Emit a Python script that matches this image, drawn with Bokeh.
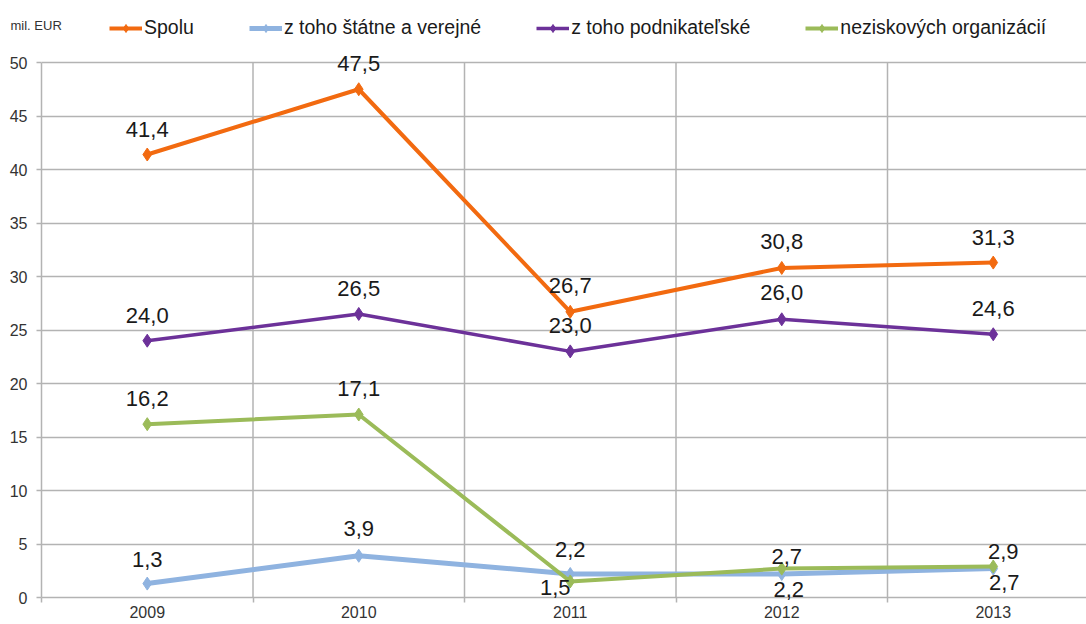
from bokeh.plotting import figure
from bokeh.models import (ColumnDataSource, FixedTicker, Legend, LegendItem, Label, Range1d)
from bokeh.layouts import column
from bokeh.core.properties import value
from bokeh.embed import file_html
from bokeh.resources import INLINE

# ---- data ----
years = ["2009", "2010", "2011", "2012", "2013"]
spolu = [41.4, 47.5, 26.7, 30.8, 31.3]
statne = [1.3, 3.9, 2.2, 2.2, 2.7]
podnik = [24.0, 26.5, 23.0, 26.0, 24.6]
nezisk = [16.2, 17.1, 1.5, 2.7, 2.9]
series_names = ["Spolu", "z toho štátne a verejné", "z toho podnikateľské", "neziskových organizácií"]
y_ticks = [0, 5, 10, 15, 20, 25, 30, 35, 40, 45, 50]
unit_label = "mil. EUR"

# ---- styling ----
colors = ["#f26a10", "#8fb3e0", "#6c3199", "#9bbb59"]
widths = [4, 5, 3.5, 4]
FONT = "Liberation Sans"
grid_col = "#b3b3b3"
# label offsets (dx, dy) in px per series per point
offsets = [
    [(0, -25), (0, -26), (0, -26), (0, -26), (0, -25)],
    [(0, -24), (0, -27), (0, -24), (7, 16), (11, 14)],
    [(0, -25), (0, -25), (0, -26), (0, -27), (0, -26)],
    [(0, -26), (0, -26), (-15, 6), (5, -12), (10, -15)],
]

W = 1086
TOP_H = 44
MAIN_H = 624 - TOP_H
LEFT = 41
BOTTOM = 23
PX_PER_UNIT = 535 / 50      # pixel height of one data unit
ZERO_PX = 597 - TOP_H       # y of value 0 inside the main figure
frame_h = MAIN_H - BOTTOM
y_end = ZERO_PX / PX_PER_UNIT
y_start = -(frame_h - ZERO_PX) / PX_PER_UNIT
x_end = -0.5 + (W - LEFT) / 211.5


def no_align(fig):
    if "frame_align" in fig.properties():
        fig.frame_align = False


# ---- header strip: unit label + legend ----
top = figure(width=W, height=TOP_H, output_backend="svg", toolbar_location=None,
             x_range=Range1d(0, W), y_range=Range1d(0, TOP_H),
             x_axis_location=None, y_axis_location=None,
             min_border=0, min_border_left=0, min_border_right=0,
             min_border_top=0, min_border_bottom=0)
no_align(top)
top.outline_line_color = None
top.xgrid.visible = False
top.ygrid.visible = False
top.add_layout(Label(x=10, y=TOP_H - 25, x_units="screen", y_units="screen", text=unit_label,
                     text_font=FONT, text_font_size="13px", text_color="#333333",
                     text_baseline="middle"))
leg_items = []
for i, name in enumerate(series_names):
    dsrc = ColumnDataSource(dict(x=[float("nan")], y=[float("nan")]))
    l = top.line("x", "y", source=dsrc, line_color=colors[i], line_width=widths[i])
    m = top.scatter("x", "y", source=dsrc, marker="diamond", size=13,
                    fill_color=colors[i], line_color=colors[i])
    leg_items.append(LegendItem(label=name, renderers=[l, m]))
legend = Legend(items=leg_items, orientation="horizontal", location=(109, 5),
                glyph_width=33, glyph_height=20, label_standoff=2, spacing=55,
                padding=0, margin=0, border_line_color=None, background_fill_alpha=0,
                label_text_font=FONT, label_text_font_size="19.5px", label_text_color="#1a1a1a")
top.add_layout(legend, "center")

# ---- main chart ----
p = figure(width=W, height=MAIN_H, output_backend="svg", toolbar_location=None,
           x_range=Range1d(-0.5, x_end), y_range=Range1d(y_start, y_end),
           min_border_left=LEFT, min_border_right=0, min_border_top=0, min_border_bottom=BOTTOM)
no_align(p)
p.outline_line_color = None
p.background_fill_color = "white"
p.border_fill_color = "white"

xs = list(range(len(years)))
bounds = [i + 0.5 for i in xs[:-1]]

p.segment(x0=bounds, x1=bounds, y0=[y_ticks[0]] * len(bounds), y1=[y_ticks[-1]] * len(bounds),
          line_color=grid_col, line_width=1.5)

srcs = []
for i, vals in enumerate([spolu, statne, podnik, nezisk]):
    src = ColumnDataSource(dict(
        x=xs, y=vals,
        lab=[f"{v:.1f}".replace(".", ",") for v in vals],
        dx=[o[0] for o in offsets[i]],
        dy=[o[1] for o in offsets[i]],
    ))
    p.line("x", "y", source=src, line_color=colors[i], line_width=widths[i], line_join="round")
    p.scatter("x", "y", source=src, marker="diamond", size=13, fill_color=colors[i],
              line_color=colors[i])
    srcs.append(src)

for src in srcs:
    p.text("x", "y", text="lab", source=src, x_offset="dx", y_offset="dy",
           text_align="center", text_baseline="middle", text_font=value(FONT),
           text_font_size="22px", text_color="#1a1a1a")

xa = p.xaxis[0]
xa.ticker = FixedTicker(ticks=xs, minor_ticks=[-0.5] + bounds + [4.5])
xa.major_label_overrides = {i: y for i, y in enumerate(years)}
xa.major_tick_out = 0
xa.major_tick_in = 0
xa.minor_tick_out = 1
xa.minor_tick_in = 4
xa.minor_tick_line_color = grid_col
xa.minor_tick_line_width = 1.5
xa.axis_line_color = None
xa.major_label_standoff = 3
xa.major_label_text_font = FONT
xa.major_label_text_font_size = "16px"
xa.major_label_text_color = "#333333"

ya = p.yaxis[0]
ya.ticker = FixedTicker(ticks=y_ticks)
ya.bounds = (y_ticks[0], y_ticks[-1])
ya.major_tick_out = 5
ya.major_tick_in = 0
ya.minor_tick_out = 0
ya.minor_tick_in = 0
ya.major_tick_line_color = grid_col
ya.major_tick_line_width = 1.5
ya.axis_line_color = grid_col
ya.axis_line_width = 1.5
ya.major_label_standoff = 9
ya.major_label_text_font = FONT
ya.major_label_text_font_size = "16px"
ya.major_label_text_color = "#333333"

p.xgrid.visible = False
p.ygrid.ticker = FixedTicker(ticks=y_ticks)
p.ygrid.grid_line_color = grid_col
p.ygrid.grid_line_width = 1.5

layout = column(top, p, spacing=0)
open("out.html", "w").write(file_html(layout, INLINE))
